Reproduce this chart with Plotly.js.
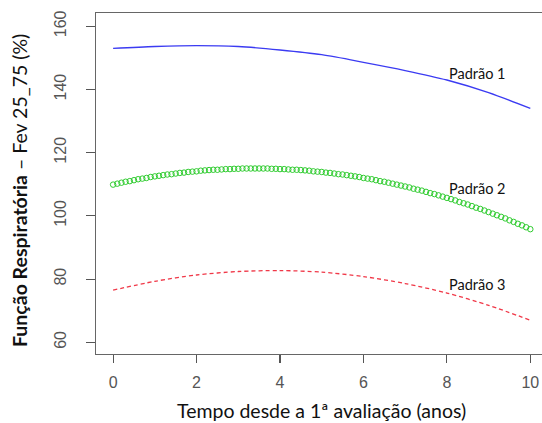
<!DOCTYPE html>
<html>
<head>
<meta charset="utf-8">
<script src="https://cdn.plot.ly/plotly-3.0.1.min.js"></script>
<style>html,body{margin:0;padding:0;background:#fff;}#chart{width:542px;height:423px;}</style>
</head>
<body>
<div id="chart"></div>
<script>
// Padrão 1 (blue solid line), read at integer years
const yearsP1 = [0, 1, 2, 3, 4, 5, 6, 7, 8, 9, 10];
const valuesP1 = [153.0, 153.6, 153.9, 153.6, 152.5, 151.0, 148.6, 146.0, 143.0, 139.0, 134.0];

// Padrão 2 (green open circles), one circle every 0.1 year
const yearsP2 = [0.0,0.1,0.2,0.3,0.4,0.5,0.6,0.7,0.8,0.9,1.0,1.1,1.2,1.3,1.4,1.5,1.6,1.7,1.8,1.9,
  2.0,2.1,2.2,2.3,2.4,2.5,2.6,2.7,2.8,2.9,3.0,3.1,3.2,3.3,3.4,3.5,3.6,3.7,3.8,3.9,
  4.0,4.1,4.2,4.3,4.4,4.5,4.6,4.7,4.8,4.9,5.0,5.1,5.2,5.3,5.4,5.5,5.6,5.7,5.8,5.9,
  6.0,6.1,6.2,6.3,6.4,6.5,6.6,6.7,6.8,6.9,7.0,7.1,7.2,7.3,7.4,7.5,7.6,7.7,7.8,7.9,
  8.0,8.1,8.2,8.3,8.4,8.5,8.6,8.7,8.8,8.9,9.0,9.1,9.2,9.3,9.4,9.5,9.6,9.7,9.8,9.9,10.0];
const valuesP2 = [109.9,110.2,110.5,110.8,111.0,111.3,111.6,111.8,112.0,112.3,112.5,112.7,112.9,113.1,113.2,113.4,113.6,113.7,113.9,114.0,
  114.1,114.3,114.4,114.5,114.6,114.6,114.7,114.8,114.8,114.9,114.9,115.0,115.0,115.0,115.0,115.0,115.0,115.0,114.9,114.9,
  114.8,114.8,114.7,114.6,114.6,114.5,114.4,114.3,114.1,114.0,113.9,113.7,113.6,113.4,113.2,113.1,112.9,112.7,112.5,112.3,
  112.0,111.8,111.6,111.3,111.0,110.8,110.5,110.2,109.9,109.6,109.3,109.0,108.6,108.3,108.0,107.6,107.2,106.9,106.5,106.1,
  105.7,105.3,104.9,104.4,104.0,103.6,103.1,102.6,102.2,101.7,101.2,100.7,100.2,99.7,99.2,98.6,98.1,97.5,97.0,96.4,95.8];

// Padrão 3 (red dashed line), read at integer years
const yearsP3 = [0, 1, 2, 3, 4, 5, 6, 7, 8, 9, 10];
const valuesP3 = [76.5, 79.3, 81.3, 82.4, 82.7, 82.2, 80.8, 78.6, 75.6, 71.7, 67.0];

const seriesLabels = ["Padrão 1", "Padrão 2", "Padrão 3"];
const xTickVals = [0, 2, 4, 6, 8, 10];
const yTickVals = [60, 80, 100, 120, 140, 160];
const xTitle = "Tempo desde a 1ª avaliação (anos)";
const yTitleBold = "Função Respiratória";
const yTitleRest = " – Fev 25_75 (%)";

const traces = [
  {x: yearsP1, y: valuesP1, type: "scatter", mode: "lines", name: seriesLabels[0],
   line: {color: "#3b3bf2", width: 1.3, shape: "spline", smoothing: 0.8}},
  {x: yearsP2, y: valuesP2, type: "scatter", mode: "markers", name: seriesLabels[1],
   marker: {symbol: "circle-open", size: 5.5, color: "#2fcc2f", line: {width: 1, color: "#2fcc2f"}}},
  {x: yearsP3, y: valuesP3, type: "scatter", mode: "lines", name: seriesLabels[2],
   line: {color: "#f03848", width: 1.3, dash: "4px,3px", shape: "spline", smoothing: 0.8}}
];

const axisFont = {family: "Liberation Sans, Arial, sans-serif", size: 16, color: "#555"};

const layout = {
  width: 542, height: 423,
  margin: {l: 96, r: 0, t: 13, b: 69, pad: 0},
  paper_bgcolor: "#fff", plot_bgcolor: "#fff",
  showlegend: false,
  xaxis: {
    range: [-0.41, 10.28], tickvals: xTickVals, ticktext: xTickVals.map(String),
    showgrid: false, zeroline: false,
    showline: true, mirror: true, linecolor: "#666", linewidth: 1.3,
    ticks: "outside", ticklen: 8, tickcolor: "#555", tickwidth: 1.2,
    tickfont: axisFont, ticklabelstandoff: 5
  },
  yaxis: {
    range: [56.3, 164.2], tickvals: yTickVals, ticktext: yTickVals.map(String),
    showgrid: false, zeroline: false,
    showline: true, linecolor: "#666", linewidth: 1.3,
    ticks: "outside", ticklen: 9, tickcolor: "#555", tickwidth: 1.2,
    tickangle: -90, tickfont: axisFont, ticklabelstandoff: 13
  },
  annotations: [
    {text: seriesLabels[0], x: 8.0, y: 145.0, xref: "x", yref: "y", xanchor: "left", yanchor: "middle",
     showarrow: false, font: {family: "Lato, sans-serif", size: 14.5, color: "#111"}},
    {text: seriesLabels[1], x: 8.0, y: 108.7, xref: "x", yref: "y", xanchor: "left", yanchor: "middle",
     showarrow: false, font: {family: "Lato, sans-serif", size: 14.5, color: "#111"}},
    {text: seriesLabels[2], x: 8.0, y: 78.4, xref: "x", yref: "y", xanchor: "left", yanchor: "middle",
     showarrow: false, font: {family: "Lato, sans-serif", size: 14.5, color: "#111"}},
    {text: xTitle, x: (321 - 96) / 446, y: -(411 - 354.3) / 341.6, xref: "paper", yref: "paper",
     xanchor: "center", yanchor: "middle", showarrow: false,
     font: {family: "Lato, sans-serif", size: 19.5, color: "#111"}},
    {text: "<b>" + yTitleBold + "</b>" + yTitleRest, x: -(96 - 20) / 446, y: (354.3 - 191) / 341.6,
     xref: "paper", yref: "paper", xanchor: "center", yanchor: "middle", textangle: -90, showarrow: false,
     font: {family: "Lato, sans-serif", size: 19.5, color: "#111"}}
  ]
};

Plotly.newPlot("chart", traces, layout, {staticPlot: true, displayModeBar: false});
</script>
</body>
</html>
